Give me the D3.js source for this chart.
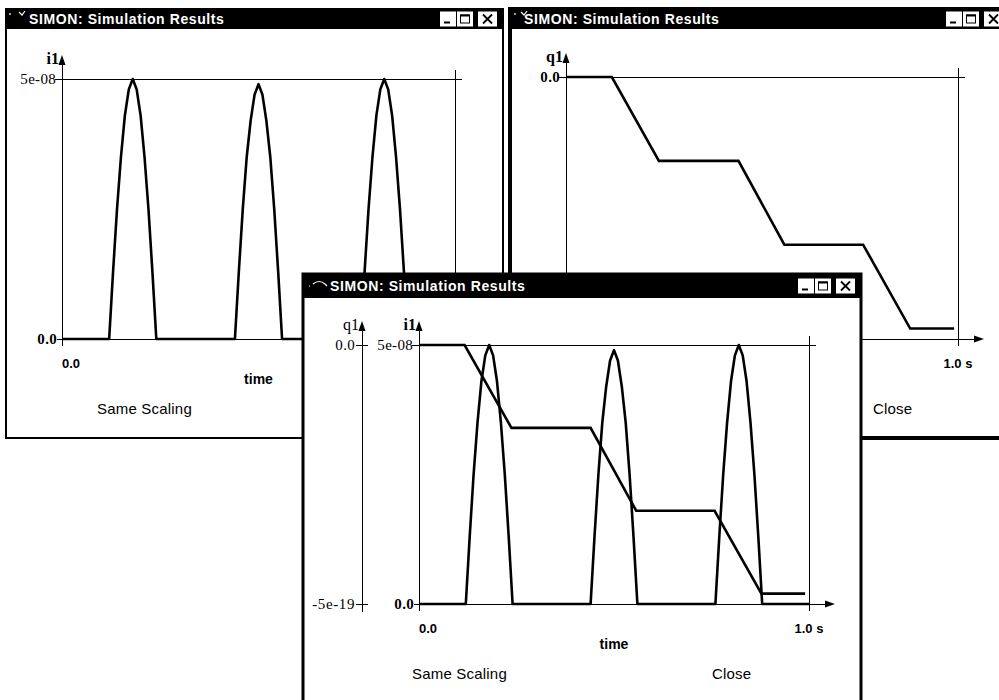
<!DOCTYPE html>
<html>
<head>
<meta charset="utf-8">
<script src="https://cdn.jsdelivr.net/npm/d3@7"></script>
<style>
  body { margin: 0; background: #fff; }
  svg { display: block; }
</style>
</head>
<body>
<div id="chart"></div>
<script>
// values
const timeI1 = [0.00,
  0.12, 0.13, 0.14, 0.15, 0.16, 0.17, 0.18, 0.19, 0.20, 0.21, 0.22, 0.23, 0.24,
  0.44, 0.45, 0.46, 0.47, 0.48, 0.49, 0.50, 0.51, 0.52, 0.53, 0.54, 0.55, 0.56,
  0.76, 0.77, 0.78, 0.79, 0.80, 0.81, 0.82, 0.83, 0.84, 0.85, 0.86, 0.87, 0.88,
  1.00];
const i1Values = [0,
  0, 1.3e-8, 2.5e-8, 3.5e-8, 4.3e-8, 4.8e-8, 5.0e-8, 4.8e-8, 4.3e-8, 3.5e-8, 2.5e-8, 1.3e-8, 0,
  0, 1.3e-8, 2.5e-8, 3.5e-8, 4.2e-8, 4.7e-8, 4.9e-8, 4.7e-8, 4.2e-8, 3.5e-8, 2.5e-8, 1.3e-8, 0,
  0, 1.3e-8, 2.5e-8, 3.5e-8, 4.3e-8, 4.8e-8, 5.0e-8, 4.8e-8, 4.3e-8, 3.5e-8, 2.5e-8, 1.3e-8, 0,
  0];

const timeQ1 = [0.00, 0.117, 0.237, 0.44, 0.557, 0.758, 0.878, 0.99];
const q1Values = [0, 0, -1.6e-19, -1.6e-19, -3.2e-19, -3.2e-19, -4.8e-19, -4.8e-19];

const timeDomain = [0, 1.0];
const i1Domain = [0, 5e-8];
const q1Domain = [-5e-19, 0];
const xTickLabels = ['0.0', '1.0 s'];
const i1TickLabels = ['0.0', '5e-08'];
const q1TickLabels = ['-5e-19', '0.0'];
const windowTitle = 'SIMON: Simulation Results';

const i1Data = timeI1.map((t, k) => ({ t: t, v: i1Values[k] }));
const q1Data = timeQ1.map((t, k) => ({ t: t, v: q1Values[k] }));

const svg = d3.select('#chart').append('svg')
  .attr('width', 999)
  .attr('height', 700);

const SANS = 'Liberation Sans, Arial, sans-serif';
const SERIF = 'Liberation Serif, Times New Roman, serif';

function drawWindow(w) {
  const g = svg.append('g');
  g.append('rect')
    .attr('x', w.x).attr('y', w.y)
    .attr('width', w.w).attr('height', w.h)
    .attr('fill', '#fff').attr('stroke', '#000').attr('stroke-width', w.border);
  g.append('rect')
    .attr('x', w.x).attr('y', w.y)
    .attr('width', w.w).attr('height', w.titleH)
    .attr('fill', '#000');
  // little icon in the corner
  g.append('path')
    .attr('d', w.icon)
    .attr('fill', 'none').attr('stroke', '#fff').attr('stroke-width', 1.2);
  g.append('text')
    .attr('x', w.x + w.titleX).attr('y', w.y + w.titleH / 2 + 5)
    .attr('fill', '#fff')
    .style('font', `bold 14px ${SANS}`)
    .style('letter-spacing', '0.6px')
    .text(windowTitle);

  // min / max / close buttons
  const right = w.x + w.w;
  const by = w.y + (w.titleH - 15) / 2;
  [right - 63, right - 46, right - 25].forEach((bx, k) => {
    g.append('rect').attr('x', bx).attr('y', by)
      .attr('width', k === 2 ? 19 : 16).attr('height', 15).attr('fill', '#fff');
    if (k === 0) {
      g.append('rect').attr('x', bx + 4).attr('y', by + 10).attr('width', 6).attr('height', 2).attr('fill', '#000');
    } else if (k === 1) {
      g.append('rect').attr('x', bx + 3.5).attr('y', by + 3.5).attr('width', 9).attr('height', 8)
        .attr('fill', 'none').attr('stroke', '#000').attr('stroke-width', 1);
      g.append('rect').attr('x', bx + 3).attr('y', by + 3).attr('width', 10).attr('height', 2).attr('fill', '#000');
    } else {
      g.append('path')
        .attr('d', `M${bx + 5},${by + 3}L${bx + 14},${by + 12}M${bx + 14},${by + 3}L${bx + 5},${by + 12}`)
        .attr('stroke', '#000').attr('stroke-width', 1.8);
    }
  });
  return g;
}

function arrowUp(g, ax, top) {
  g.append('path')
    .attr('d', `M${ax},${top}L${ax - 3.5},${top + 10}L${ax + 3.5},${top + 10}Z`)
    .attr('fill', '#000');
}

function arrowRight(g, end, ay) {
  g.append('path')
    .attr('d', `M${end},${ay}L${end - 10},${ay - 3.5}L${end - 10},${ay + 3.5}Z`)
    .attr('fill', '#000');
}

function line(g, x1, y1, x2, y2) {
  g.append('line')
    .attr('x1', x1).attr('y1', y1).attr('x2', x2).attr('y2', y2)
    .attr('stroke', '#000').attr('stroke-width', 1)
    .attr('shape-rendering', 'crispEdges');
}

function label(g, x, y, txt, font, anchor, spacing) {
  g.append('text')
    .attr('x', x).attr('y', y)
    .attr('text-anchor', anchor || 'start')
    .attr('fill', '#000')
    .style('font', font)
    .style('letter-spacing', spacing || '0px')
    .text(txt);
}

function drawPlot(g, p) {
  const x = d3.scaleLinear().domain(timeDomain).range([p.x0, p.x1]);
  const yI = d3.scaleLinear().domain(i1Domain).range([p.y0, p.y1]);
  const yQ = d3.scaleLinear().domain(q1Domain).range([p.y0, p.y1]);
  const left = x(timeDomain[0]), right = x(timeDomain[1]);
  const bottom = p.y0, top = p.y1;

  // frame: y axis with arrow, top reference line, right marker, time axis with arrow
  line(g, left, bottom + 7, left, top - 20);
  arrowUp(g, left, top - 24);
  line(g, left - 7, top, right + 7, top);
  line(g, right, top - 9, right, bottom + 7);
  line(g, left - 5, bottom, right + 20, bottom);
  arrowRight(g, right + 26, bottom);

  // y labels for the main (right-hand) axis
  const mainVar = p.series.includes('i1') ? 'i1' : 'q1';
  const yMain = mainVar === 'i1' ? yI : yQ;
  const mainLabels = mainVar === 'i1' ? i1TickLabels : q1TickLabels;
  const mainDom = mainVar === 'i1' ? i1Domain : q1Domain;
  label(g, left - 3, top - 15, mainVar, `bold 16px ${SERIF}`, 'end');
  label(g, left - 6, yMain(mainDom[1]) + 5, mainLabels[1],
    (mainLabels[1] === '0.0' ? 'bold ' : '') + `15px ${SERIF}`, 'end', '0.3px');
  label(g, left - 5, yMain(mainDom[0]) + 5, mainLabels[0], `bold 15px ${SERIF}`, 'end', '0.3px');

  // second q1 axis on the combined plot
  if (p.series.length === 2) {
    const qx = p.qAxisX;
    line(g, qx, bottom + 8, qx, top - 20);
    arrowUp(g, qx, top - 24);
    line(g, qx - 6, yQ(q1Domain[1]), qx + 6, yQ(q1Domain[1]));
    line(g, qx - 6, yQ(q1Domain[0]), qx + 6, yQ(q1Domain[0]));
    label(g, qx - 3, top - 15, 'q1', `16px ${SERIF}`, 'end');
    label(g, qx - 7, yQ(q1Domain[1]) + 5, q1TickLabels[1], `15px ${SERIF}`, 'end', '0.3px');
    label(g, qx - 7, yQ(q1Domain[0]) + 5, q1TickLabels[0], `15px ${SERIF}`, 'end', '0.6px');
  }

  // time labels
  label(g, left, bottom + 29, xTickLabels[0], `bold 13px ${SANS}`, 'start');
  label(g, right, bottom + 29, xTickLabels[1], `bold 13px ${SANS}`, 'middle');
  label(g, (left + right) / 2, bottom + 45, 'time', `bold 14px ${SANS}`, 'middle');
  label(g, p.sameX, bottom + 75, 'Same Scaling', `15px ${SANS}`, 'start', '0.2px');
  label(g, p.closeX, bottom + 75, 'Close', `15px ${SANS}`, 'start', '0.2px');

  if (p.series.includes('i1')) {
    g.append('path')
      .datum(i1Data)
      .attr('d', d3.line().x(d => x(d.t)).y(d => yI(d.v)))
      .attr('fill', 'none').attr('stroke', '#000').attr('stroke-width', 2.6)
      .attr('stroke-linejoin', 'round');
  }
  if (p.series.includes('q1')) {
    g.append('path')
      .datum(q1Data)
      .attr('d', d3.line().x(d => x(d.t)).y(d => yQ(d.v)))
      .attr('fill', 'none').attr('stroke', '#000').attr('stroke-width', 2.6)
      .attr('stroke-linejoin', 'miter');
  }
}

// left window: i1
const w1 = drawWindow({ x: 6, y: 9, w: 497, h: 429, titleH: 20, titleX: 23, border: 2,
  icon: 'M10,13l0,2M19,12l3,3l3,-4' });
drawPlot(w1, { x0: 62, x1: 455, y0: 339, y1: 79, series: ['i1'], sameX: 97, closeX: 370 });

// right window: q1
const w2 = drawWindow({ x: 510, y: 9, w: 499, h: 429, titleH: 20, titleX: 14, border: 4,
  icon: 'M515,13l0,2M521,12l3,3l3,-4' });
drawPlot(w2, { x0: 566, x1: 958, y0: 339, y1: 77, series: ['q1'], sameX: 600, closeX: 873 });

// front window: both curves
const w3 = drawWindow({ x: 303, y: 274, w: 558, h: 440, titleH: 24, titleX: 27, border: 3,
  icon: 'M309,286l1,0M313,284q6,-5 12,0l2,2' });
drawPlot(w3, { x0: 419, x1: 809, y0: 604, y1: 345, series: ['q1', 'i1'], qAxisX: 362,
  sameX: 412, closeX: 712 });
</script>
</body>
</html>
